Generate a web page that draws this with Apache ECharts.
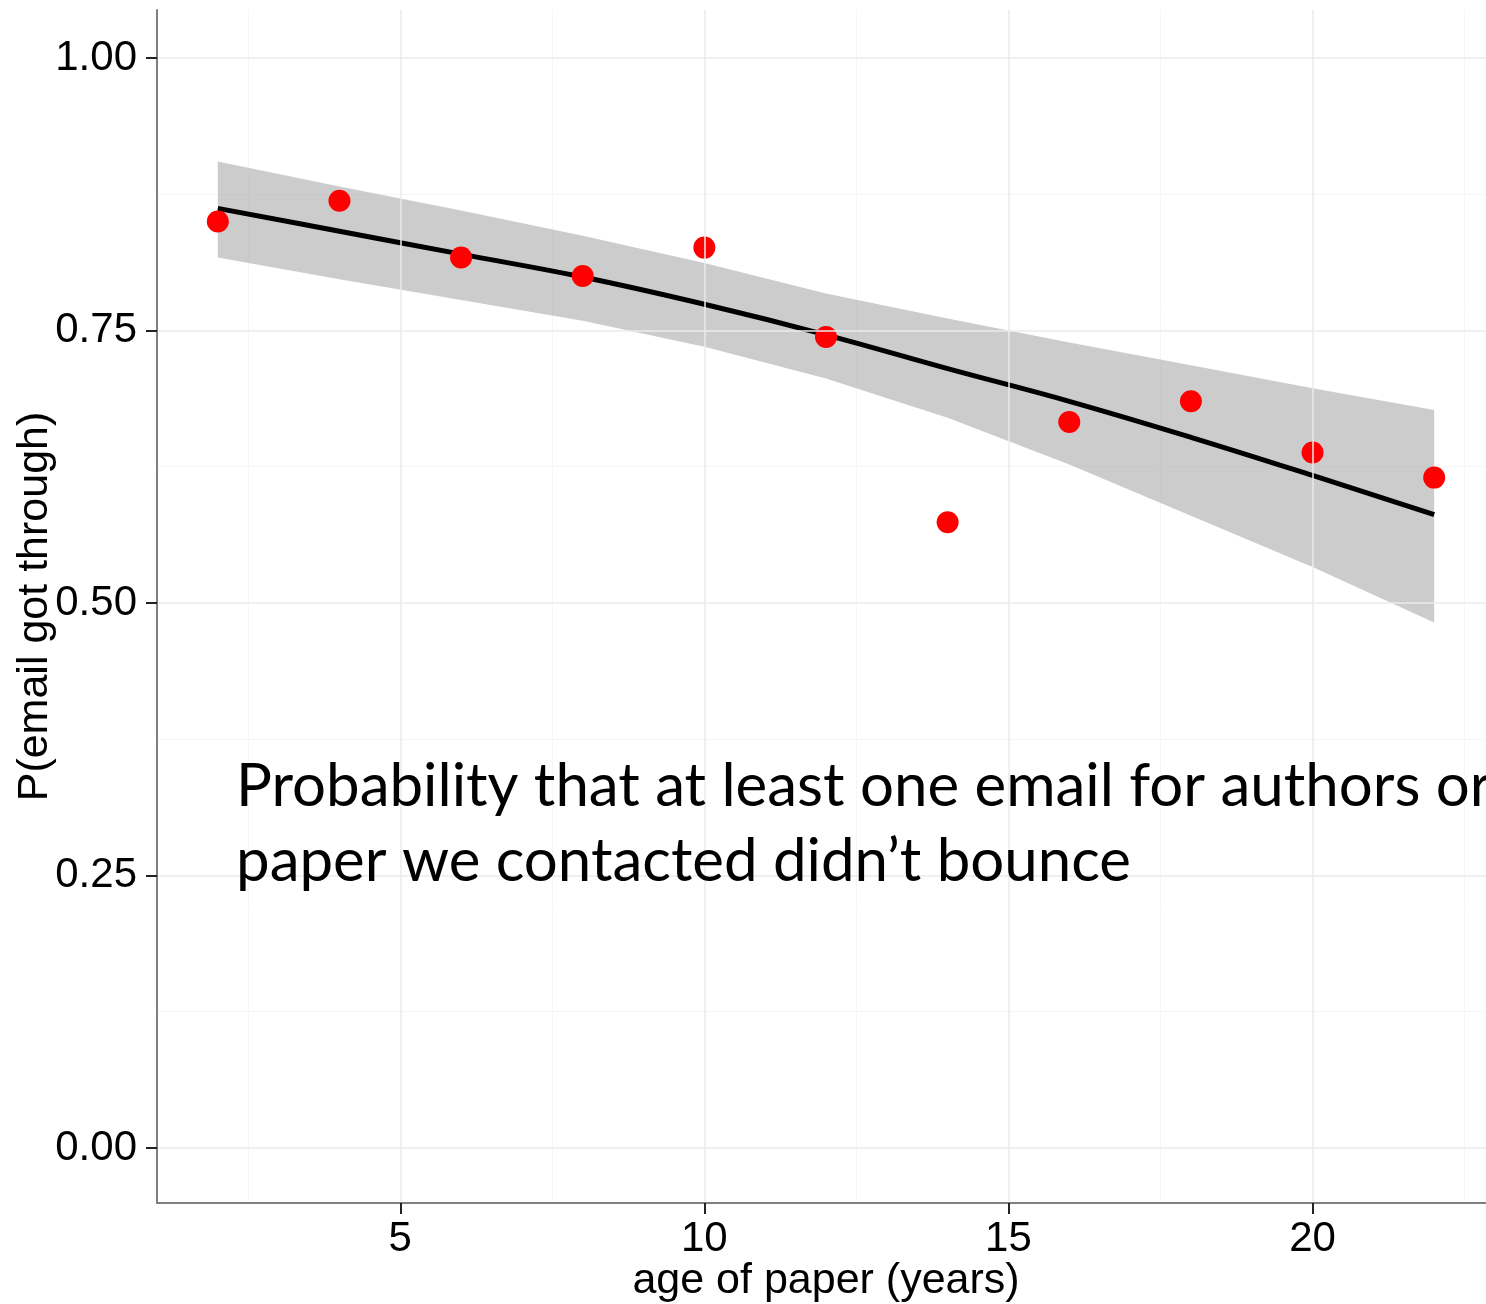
<!DOCTYPE html>
<html>
<head>
<meta charset="utf-8">
<script src="https://cdn.jsdelivr.net/npm/echarts@6/dist/echarts.min.js"></script>
<style>
  html, body { margin: 0; padding: 0; background: #fff; }
  #chart { width: 1486px; height: 1304px; }
</style>
</head>
<body>
<div id="chart"></div>
<script>
// ---- data ----
const ages = [2, 4, 6, 8, 10, 12, 14, 16, 18, 20, 22];
const pObserved = [0.850, 0.869, 0.817, 0.800, 0.826, 0.744, 0.574, 0.666, 0.685, 0.638, 0.615];
const pFit      = [0.862, 0.841, 0.820, 0.799, 0.774, 0.746, 0.715, 0.685, 0.652, 0.617, 0.581];
const ciUpper   = [0.905, 0.882, 0.860, 0.837, 0.812, 0.784, 0.761, 0.739, 0.718, 0.697, 0.677];
const ciLower   = [0.817, 0.797, 0.778, 0.759, 0.735, 0.706, 0.670, 0.627, 0.580, 0.533, 0.482];
const xTicks = [5, 10, 15, 20];
const xMinorTicks = [2.5, 7.5, 12.5, 17.5, 22.5];
const yTicks = [0, 0.25, 0.5, 0.75, 1];
const yMinorTicks = [0.125, 0.375, 0.625, 0.875];
const xTitle = 'age of paper (years)';
const yTitle = 'P(email got through)';
const noteText = 'Probability that at least one email for authors or\npaper we contacted didn\u2019t bounce';

const X_MIN = 1, X_MAX = 23, Y_MIN = -0.0505, Y_MAX = 1.044;
const FONT = '"Liberation Sans", Arial, Helvetica, sans-serif';

const chart = echarts.init(document.getElementById('chart'), null, { renderer: 'canvas' });

const option = {
  animation: false,
  backgroundColor: '#ffffff',
  grid: { left: 157, top: 10, width: 1338, height: 1193, containLabel: false, outerBoundsMode: 'none' },
  xAxis: [
    {
      type: 'value', min: X_MIN, max: X_MAX,
      name: xTitle, nameLocation: 'middle', nameGap: 57, nameMoveOverlap: false,
      nameTextStyle: { fontFamily: FONT, fontSize: 43, color: '#000' },
      axisLine: { show: true, onZero: false, lineStyle: { color: '#7f7f7f', width: 2 } },
      axisTick: { show: true, length: 11, customValues: xTicks, lineStyle: { color: '#222', width: 2 } },
      axisLabel: { customValues: xTicks, margin: 15, fontFamily: FONT, fontSize: 42, color: '#000' },
      splitLine: { show: true, lineStyle: { color: '#ebebeb', width: 1.5 } },
      z: 5
    },
    {
      type: 'value', min: X_MIN, max: X_MAX, position: 'bottom',
      axisLine: { show: false }, axisLabel: { show: false },
      axisTick: { show: false, customValues: xMinorTicks },
      splitLine: { show: true, lineStyle: { color: '#f6f6f6', width: 1 } }
    }
  ],
  yAxis: [
    {
      type: 'value', min: Y_MIN, max: Y_MAX,
      name: yTitle, nameLocation: 'middle', nameGap: 100, nameRotate: 90, nameMoveOverlap: false,
      nameTextStyle: { fontFamily: FONT, fontSize: 43, color: '#000' },
      axisLine: { show: true, onZero: false, lineStyle: { color: '#7f7f7f', width: 2 } },
      axisTick: { show: true, length: 11, customValues: yTicks, lineStyle: { color: '#222', width: 2 } },
      axisLabel: { customValues: yTicks, margin: 20, fontFamily: FONT, fontSize: 42, color: '#000',
                   formatter: v => v.toFixed(2) },
      splitLine: { show: true, lineStyle: { color: '#ebebeb', width: 1.5 } },
      z: 5
    },
    {
      type: 'value', min: Y_MIN, max: Y_MAX, position: 'left',
      axisLine: { show: false }, axisLabel: { show: false },
      axisTick: { show: false, customValues: yMinorTicks },
      splitLine: { show: true, lineStyle: { color: '#f6f6f6', width: 1 } }
    }
  ],
  series: [
    {
      name: 'ci', type: 'custom', xAxisIndex: 0, yAxisIndex: 0, z: 2,
      data: [0],
      renderItem: function (params, api) {
        const pts = [];
        for (let i = 0; i < ages.length; i++) pts.push(api.coord([ages[i], ciUpper[i]]));
        for (let i = ages.length - 1; i >= 0; i--) pts.push(api.coord([ages[i], ciLower[i]]));
        return { type: 'polygon', shape: { points: pts }, style: { fill: 'rgba(153,153,153,0.5)' } };
      },
      silent: true
    },
    {
      name: 'fit', type: 'line', xAxisIndex: 0, yAxisIndex: 0, z: 3,
      data: ages.map((a, i) => [a, pFit[i]]),
      smooth: 0.4, showSymbol: false, symbol: 'none',
      lineStyle: { color: '#000', width: 5 }
    },
    {
      name: 'observed', type: 'scatter', xAxisIndex: 0, yAxisIndex: 0, z: 4,
      data: ages.map((a, i) => [a, pObserved[i]]),
      symbol: 'circle', symbolSize: 22,
      itemStyle: { color: '#ff0000', opacity: 1 }
    }
  ],
  graphic: [
    {
      type: 'text', left: 236, top: 749, z: 10,
      style: {
        text: noteText, fill: '#000',
        font: '60px Lato, "Open Sans", sans-serif',
        lineHeight: 75
      }
    }
  ]
};

chart.setOption(option);
</script>
</body>
</html>
